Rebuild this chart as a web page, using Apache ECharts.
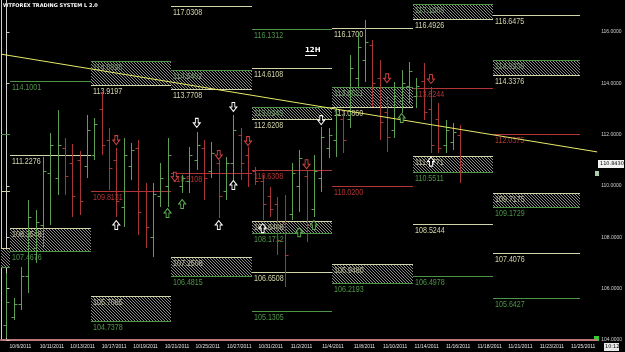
<!DOCTYPE html>
<html><head><meta charset="utf-8">
<style>html,body{margin:0;padding:0;background:#000;}#c{width:625px;height:352px;}</style>
<script src="https://cdn.jsdelivr.net/npm/echarts@6/dist/echarts.min.js"></script>
</head><body><div id="c"></div><script>
// ---- data ----
const dateLabels = ['10/6/2011','10/11/2011','10/13/2011','10/17/2011','10/19/2011','10/21/2011','10/25/2011','10/27/2011','10/31/2011','11/2/2011','11/4/2011','11/8/2011','11/10/2011','11/14/2011','11/16/2011','11/18/2011','11/21/2011','11/23/2011','11/25/2011'];
const dateLabelPos = [1.9,6.2,10.4,14.7,19.0,23.3,27.5,31.8,36.1,40.3,44.6,48.9,53.1,57.4,61.7,66.0,70.2,74.5,78.8];
const priceTicks = [104,106,108,110,112,114,116];

const barOpen = [104.6,104.9,105.4,106.5,107.6,108.5,110.5,110.3,111.5,110.9, 111.0,110.8,111.2,113.0,111.8,111.0,109.2,110.8,111.5,109.8, 108.0,109.6,110.0,110.3,110.0,110.2,111.0,111.5,110.6,110.9, 109.8,110.9,112.0,111.2,110.6,110.2,109.6,109.3,108.6,108.9, 110.0,110.4,109.1,110.3,111.5,111.8,112.6,112.6,114.2,114.9, 115.5,114.2,112.9,112.2,113.3,113.9,113.5,114.1,113.0,112.6, 111.6,111.7,112.0];
const barHigh = [106.61,105.64,106.85,109.46,109.07,111.13,112.07,112.96,111.87,111.64, 111.36,112.77,112.65,113.66,112.26,111.48,111.87,111.68,111.79,110.12, 110.12,110.90,111.87,110.45,110.43,111.52,112.10,111.79,111.71,111.01, 111.13,112.77,112.26,111.52,110.74,110.43,109.96,109.57,109.65,110.90, 111.40,110.62,111.21,112.30,112.26,113.08,112.96,115.10,115.96,116.47, 115.69,114.91,113.47,114.05,114.52,114.83,114.21,114.79,113.86,113.24, 112.57,112.45,112.38];
const barLow = [104.08,104.78,105.17,105.83,107.00,107.62,108.48,109.65,109.65,108.79, 108.87,110.31,111.01,111.21,109.85,108.79,108.40,110.23,108.09,107.59, 107.24,109.18,109.18,110.25,109.73,109.73,110.62,109.46,110.31,108.75, 109.46,110.23,110.23,109.96,110.04,108.68,108.79,107.31,106.07,108.68, 108.99,107.82,108.79,109.77,111.09,111.13,111.29,112.26,113.86,114.05, 113.08,111.79,111.33,111.87,112.85,113.24,113.04,112.57,111.29,111.29, 111.29,111.40,110.13];
const barClose = [105.5,105.4,106.5,108.8,108.6,110.6,111.6,111.6,110.4,109.6, 109.4,112.2,112.4,111.6,110.7,109.4,111.2,111.4,109.0,108.4, 109.7,110.3,111.2,110.4,110.3,111.2,111.6,110.3,111.3,109.6, 110.9,112.2,110.9,110.5,110.2,109.3,109.1,107.9,107.3,110.5, 111.1,108.5,110.6,111.9,112.0,112.8,111.8,114.6,115.4,115.6, 114.0,112.5,111.9,113.5,114.0,114.5,113.9,112.9,111.6,111.5, 112.2,112.1,110.843];
const currentPrice = 110.843;

// weekly periods (bar-index edges); period 0 is the stub of the previous week
const periodEdges = [-0.75, 0.5, 11.5, 22.5, 33.5, 44.5, 55.5, 66.5, 78.4];

const levelPeriod = [0,0, 1,1, 2, 3,3, 4,4,4,4,4, 5,5, 6,6,6, 7,7,7,7];
const levelValue  = [112.03,109.81, 114.1001,111.2276, 109.8131, 117.0308,110.5108, 116.1312,114.6108,110.6308,106.6508,105.1305, 116.1700,110.0200, 113.8244,108.5244,106.4978, 116.6475,112.0375,107.4076,105.6427];
const levelKind   = ['g','y', 'g','y', 'r', 'y','r', 'g','y','r','y','g', 'y','r', 'r','y','g', 'y','r','y','g'];

const boxPeriod = [0, 1, 2,2, 3,3, 4,4, 5,5, 6,6, 7,7];
const boxTop    = [107.58, 108.3548, 114.8898,105.7065, 114.5402,107.2508, 113.0945,108.6408, 113.8621,106.9480, 117.1086,111.1771, 114.8936,109.7175];
const boxBottom = [106.85, 107.4676, 113.9197,104.7378, 113.7708,106.4815, 112.6208,108.1712, 113.0860,106.2193, 116.4926,110.5511, 114.3376,109.1729];
const boxKind   = ['dn','dn','up','dn','up','dn','up','dn','up','dn','up','dn','up','dn'];

const trendBar = [-0.75, 80.7];
const trendValue = [115.14, 111.33];

const markBar   = [26,31,43, 15,29,31,35,58, 15,23,29,33,41,52,58, 22,24,40,42,54];
const markValue = [112.46,113.08,112.57, 108.48,108.48,110.04,108.36,110.95, 111.79,110.36,111.21,111.75,110.85,114.20,114.17, 108.95,109.30,108.20,108.48,112.65];
const markKind  = ['wd','wd','wd', 'wu','wu','wu','wu','wu', 'rd','rd','rd','rd','rd','rd','rd', 'gu','gu','gu','gu','gu'];

// ---- styles ----
const BAR_G='#5e9f55', BAR_R='#a83636';
const COL = {g:'#4e9446', y:'#d4d4aa', r:'#b23434'};
const INNER = {g:'#6f9a68', y:'#b8b898'};
const FONT = '8.5px "Liberation Sans",Arial,sans-serif';
const SX = 0.84;
const X_MIN = -0.75, X_MAX = 80.7;

function makeHatch(){
  const c=document.createElement('canvas'); c.width=3; c.height=3;
  const g=c.getContext('2d'); g.fillStyle='#000'; g.fillRect(0,0,3,3);
  g.fillStyle='#8c8c8c'; for(let k=0;k<3;k++) g.fillRect(k,k,1,1);
  return c;
}
const hatch = makeHatch();
const px = v => Math.round(v)+0.5;
const label = (x,y,text,fill) => ({type:'text', x:x, y:y, scaleX:SX, style:{x:0, y:0, text:text, fill:fill, font:FONT, verticalAlign:'top', align:'left'}});

const chart = echarts.init(document.getElementById('c'), null, {renderer:'canvas'});

const barData = barOpen.map((o,i)=>[i,o,barHigh[i],barLow[i],barClose[i]]);
const levelData = levelValue.map((v,i)=>[levelPeriod[i], v]);
const boxData = boxTop.map((t,i)=>[boxPeriod[i], t, boxBottom[i]]);

const DOWN = 'path://M3,0L7,0L7,5L10,5L5,10L0,5L3,5Z';
const UP = 'path://M5,0L10,5L7,5L7,10L3,10L3,5L0,5Z';
const markStyles = {
  wd:{symbol:DOWN, color:'#ffffff'}, wu:{symbol:UP, color:'#ffffff'},
  rd:{symbol:DOWN, color:'#d04040'}, gu:{symbol:UP, color:'#5fae55'}
};
const markSeries = Object.keys(markStyles).map(k=>({
  type:'scatter', z:6, silent:true,
  symbol:markStyles[k].symbol, symbolSize:[7,9],
  itemStyle:{color:'#000', borderColor:markStyles[k].color, borderWidth:1, opacity:1},
  data: markBar.map((b,i)=>[b,markValue[i],markKind[i]]).filter(d=>d[2]===k).map(d=>[d[0],d[1]])
}));

const option = {
  backgroundColor:'#000',
  animation:false,
  grid:{left:1, right:27, top:0, bottom:12},
  xAxis:{
    type:'value', min:X_MIN, max:X_MAX,
    splitLine:{show:false},
    axisLine:{show:true, onZero:false, lineStyle:{color:'#c07a7a', width:2, type:[1,1]}},
    axisTick:{show:false},
    axisLabel:{customValues:dateLabelPos, color:'#e0e0e0', fontSize:5, margin:4,
      formatter:v=>{const k=dateLabelPos.findIndex(p=>Math.abs(p-v)<1e-6); return k>=0?dateLabels[k]:'';}}
  },
  yAxis:[{
    type:'value', position:'right', min:104, max:117.25,
    splitLine:{show:false},
    axisLine:{show:true, lineStyle:{color:'#cfcfcf', width:1}},
    axisTick:{show:true, length:3, customValues:priceTicks, lineStyle:{color:'#cfcfcf'}},
    axisLabel:{customValues:priceTicks, color:'#cfcfcf', fontSize:5, margin:4, formatter:v=>v.toFixed(4)}
  },{
    type:'value', position:'left', min:104, max:117.25,
    splitLine:{show:false}, axisTick:{show:false}, axisLabel:{show:false},
    axisLine:{show:true, lineStyle:{color:'#cfcfcf', width:1}}
  }],
  graphic:[
    {type:'text', left:3, top:3, style:{text:'WTFOREX TRADING SYSTEM L 2.0', fill:'#fff', font:'bold 5px "DejaVu Sans",sans-serif'}},
    {type:'text', left:305, top:47, style:{text:'12H', fill:'#fff', font:'bold 7px "DejaVu Sans",sans-serif'}},
    {type:'line', shape:{x1:305,y1:55.5,x2:317,y2:55.5}, style:{stroke:'#fff', lineWidth:1}},
    {type:'rect', shape:{x:604,y:343,width:15,height:8}, style:{fill:'#e8e8e8'}},
    {type:'text', left:605, top:344, style:{text:'10:12', fill:'#000', font:'5px "DejaVu Sans",sans-serif'}},
    {type:'rect', shape:{x:594,y:336,width:5,height:5}, style:{fill:'#33cc33'}},
    {type:'rect', shape:{x:595,y:171,width:4,height:5}, style:{fill:'#aaccaa'}}
  ],
  series:[
    { // hatched zones
      type:'custom', z:1, silent:true, data:boxData,
      renderItem:(params, api)=>{
        const i=params.dataIndex, p=api.value(0), top=api.value(1), bot=api.value(2);
        const a=api.coord([periodEdges[p], top]), b=api.coord([periodEdges[p+1], bot]);
        const x1=Math.round(a[0]), x2=Math.round(b[0]), y1=px(a[1]), y2=px(b[1]);
        const up = boxKind[i]==='up';
        const topCol = up?COL.g:COL.y, botCol = up?COL.y:COL.g;
        const ch=[
          {type:'rect', shape:{x:x1,y:y1,width:x2-x1,height:y2-y1}, style:{fill:{image:hatch, repeat:'repeat'}}},
          {type:'line', shape:{x1:x1,y1:y1,x2:x2,y2:y1}, style:{stroke:topCol,lineWidth:1}},
          {type:'line', shape:{x1:x1,y1:y2,x2:x2,y2:y2}, style:{stroke:botCol,lineWidth:1}}
        ];
        if(p>0){
          ch.push(label(x1+2, y1+2, top.toFixed(4), up?INNER.g:INNER.y));
          ch.push(label(x1+2, y2+2, bot.toFixed(4), botCol));
        }
        return {type:'group', children:ch};
      }
    },
    { // horizontal levels
      type:'custom', z:2, silent:true, data:levelData,
      renderItem:(params, api)=>{
        const i=params.dataIndex, p=api.value(0), v=api.value(1);
        const a=api.coord([periodEdges[p], v]), b=api.coord([periodEdges[p+1], v]);
        const col=COL[levelKind[i]], y=px(a[1]);
        const ch=[{type:'line', shape:{x1:Math.round(a[0]),y1:y,x2:Math.round(b[0]),y2:y}, style:{stroke:col,lineWidth:1}}];
        if(p>0) ch.push(label(Math.round(a[0])+2, y+2, v.toFixed(4), col));
        return {type:'group', children:ch};
      }
    },
    { // OHLC bars
      type:'custom', z:3, silent:true, data:barData,
      renderItem:(params, api)=>{
        const i=api.value(0), o=api.value(1), h=api.value(2), l=api.value(3), c=api.value(4);
        const ph=api.coord([i,h]), pl=api.coord([i,l]), po=api.coord([i,o]), pc=api.coord([i,c]);
        const x=px(ph[0]), col = c>=o?BAR_G:BAR_R;
        const yo=px(po[1]), yc=px(pc[1]);
        return {type:'group', children:[
          {type:'line', shape:{x1:x,y1:Math.round(ph[1]),x2:x,y2:Math.round(pl[1])}, style:{stroke:col,lineWidth:1}},
          {type:'line', shape:{x1:x-3,y1:yo,x2:x,y2:yo}, style:{stroke:col,lineWidth:1}},
          {type:'line', shape:{x1:x,y1:yc,x2:x+3,y2:yc}, style:{stroke:col,lineWidth:1}}
        ]};
      }
    },
    { // trend line
      type:'line', z:4, silent:true, showSymbol:false, symbol:'none',
      data: trendBar.map((b,i)=>[b, trendValue[i]]),
      lineStyle:{color:'#e8e86a', width:1}
    },
    ...markSeries,
    { // current price tag on the price axis
      type:'custom', z:7, silent:true, data:[[X_MAX, currentPrice]],
      renderItem:(params, api)=>{
        const p=api.coord([api.value(0), api.value(1)]);
        const x=Math.round(p[0])+1, y=Math.round(p[1]);
        return {type:'group', children:[
          {type:'rect', shape:{x:x, y:y-4, width:26, height:8}, style:{fill:'#f2f2f2'}},
          {type:'text', style:{x:x+2, y:y, text:api.value(1).toFixed(4), fill:'#000', font:'5px "DejaVu Sans",sans-serif', verticalAlign:'middle', align:'left'}}
        ]};
      }
    }
  ]
};
chart.setOption(option);
</script></body></html>
